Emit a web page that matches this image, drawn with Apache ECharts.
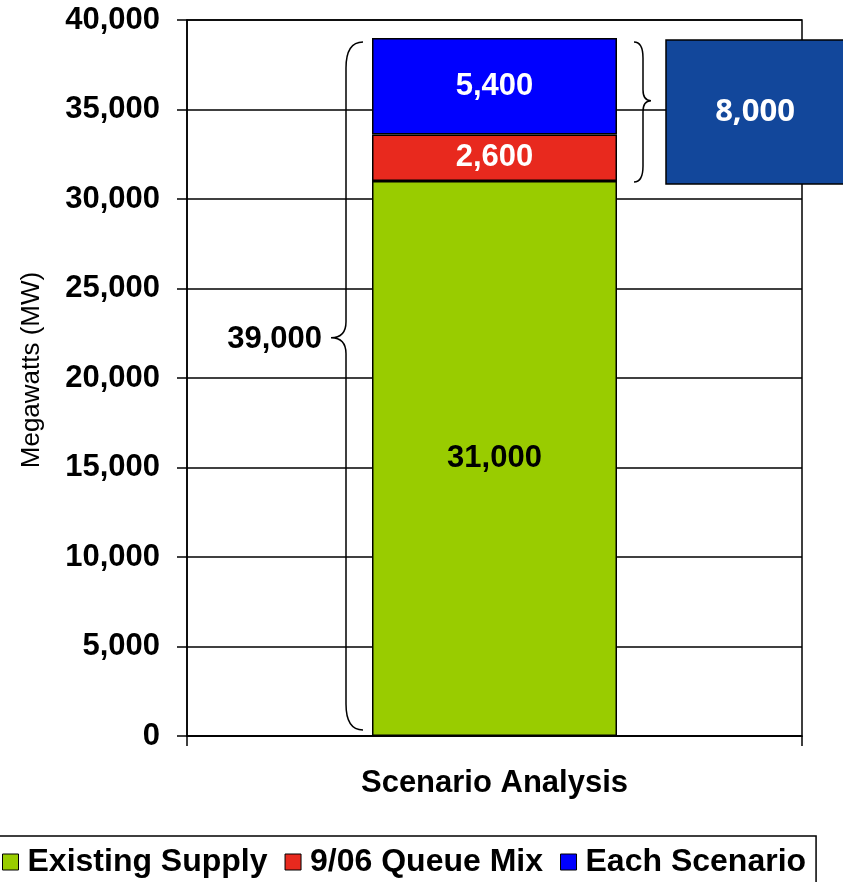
<!DOCTYPE html>
<html>
<head>
<meta charset="utf-8">
<title>Scenario Analysis</title>
<script src="https://cdn.jsdelivr.net/npm/echarts@6/dist/echarts.min.js"></script>
<style>
  html, body { margin: 0; padding: 0; background: #fff; }
  #chart { width: 843px; height: 882px; }
</style>
</head>
<body>
<div id="chart"></div>
<script>
// Capacity stack (MW)
const categories = ['Scenario Analysis'];
const existingSupply = [31000];
const queueMix = [2600];
const eachScenario = [5400];
const seriesNames = ['Existing Supply', '9/06 Queue Mix', 'Each Scenario'];
const yMin = 0, yMax = 40000, yStep = 5000;

const FONT = '"Liberation Sans", Arial, sans-serif';
const BAR_WIDTH = 245;
const fmt = v => Number(v).toLocaleString('en-US');

// totals for the brace annotations
const totals = categories.map((_, i) => existingSupply[i] + queueMix[i] + eachScenario[i]);
const additions = categories.map((_, i) => queueMix[i] + eachScenario[i]);

function leftBrace(xe, xv, xt, yT, yB, frac, rEnd, rTip) {
  const ym = yT + (yB - yT) * frac;
  return `M${xe},${yT} Q${xv},${yT} ${xv},${yT + rEnd} L${xv},${ym - rTip} ` +
         `Q${xv},${ym} ${xt},${ym} Q${xv},${ym} ${xv},${ym + rTip} ` +
         `L${xv},${yB - rEnd} Q${xv},${yB} ${xe},${yB}`;
}

const chart = echarts.init(document.getElementById('chart'));

const segLabel = (color) => ({
  show: true,
  position: 'inside',
  color: color,
  fontFamily: FONT,
  fontWeight: 'bold',
  fontSize: 31,
  formatter: p => fmt(p.value)
});

chart.setOption({
  animation: false,
  backgroundColor: '#fff',
  grid: {
    left: 187, right: 41, top: 20, bottom: 146,
    show: true, borderColor: '#000', borderWidth: 1.5
  },
  legend: {
    data: seriesNames,
    left: -8,
    top: 836,
    orient: 'horizontal',
    padding: [10, 10, 20, 10],
    borderColor: '#000',
    borderWidth: 1.5,
    itemWidth: 16,
    itemHeight: 16,
    itemGap: 17,
    icon: 'rect',
    itemStyle: { borderColor: '#000', borderWidth: 1 },
    textStyle: {
      fontFamily: FONT, fontWeight: 'bold', fontSize: 32, color: '#000',
      padding: [0, 0, 0, 4]
    }
  },
  xAxis: {
    type: 'category',
    data: categories,
    axisLine: { lineStyle: { color: '#000', width: 1.5 } },
    axisTick: { show: true, length: 10, lineStyle: { color: '#000', width: 1.5 } },
    axisLabel: {
      margin: 32, color: '#000', fontFamily: FONT, fontWeight: 'bold', fontSize: 31
    }
  },
  yAxis: {
    type: 'value',
    min: yMin, max: yMax, interval: yStep,
    name: 'Megawatts (MW)',
    nameLocation: 'middle',
    nameGap: 142,
    nameTextStyle: {
      fontFamily: FONT, fontSize: 26, color: '#000', padding: [0, 0, 0, 16]
    },
    axisLine: { show: true, lineStyle: { color: '#000', width: 1.5 } },
    axisTick: { show: true, length: 10, lineStyle: { color: '#000', width: 1.5 } },
    splitLine: { show: true, lineStyle: { color: '#000', width: 1.5 } },
    axisLabel: {
      margin: 27, color: '#000', fontFamily: FONT, fontWeight: 'bold', fontSize: 31,
      formatter: v => fmt(v)
    }
  },
  series: [
    {
      name: seriesNames[0], type: 'bar', stack: 'mw', barWidth: BAR_WIDTH,
      data: existingSupply,
      itemStyle: { color: '#99CC00', borderColor: '#000', borderWidth: 1.5 },
      label: segLabel('#000')
    },
    {
      name: seriesNames[1], type: 'bar', stack: 'mw', barWidth: BAR_WIDTH,
      data: queueMix,
      itemStyle: { color: '#E8291E', borderColor: '#000', borderWidth: 1.5 },
      label: segLabel('#fff')
    },
    {
      name: seriesNames[2], type: 'bar', stack: 'mw', barWidth: BAR_WIDTH,
      data: eachScenario,
      itemStyle: { color: '#0000FF', borderColor: '#000', borderWidth: 1.5 },
      label: segLabel('#fff')
    },
    {
      // braces with the total and the added-capacity box
      name: 'annotations',
      type: 'custom',
      clip: false,
      z: 10,
      silent: true,
      data: categories.map((_, i) => [i, existingSupply[i], totals[i], additions[i]]),
      renderItem: function (params, api) {
        const idx = api.value(0);
        const base = api.value(1);
        const total = api.value(2);
        const added = api.value(3);
        const cx = api.coord([idx, 0])[0];
        const y0 = api.coord([idx, 0])[1];
        const yTop = api.coord([idx, total])[1];
        const yBase = api.coord([idx, base])[1];
        const barLeft = cx - BAR_WIDTH / 2;
        const barRight = cx + BAR_WIDTH / 2;

        const lT = yTop + 4, lB = y0 - 6, lFrac = 0.43;
        const rT = yTop + 4, rB = yBase + 1, rFrac = 0.42;
        const lTipY = lT + (lB - lT) * lFrac;

        return {
          type: 'group',
          children: [
            {
              type: 'path',
              shape: { pathData: leftBrace(barLeft - 9, barLeft - 26, barLeft - 41, lT, lB, lFrac, 26, 16) },
              style: { fill: null, stroke: '#000', lineWidth: 1.5 }
            },
            {
              type: 'text',
              style: {
                text: fmt(total), x: barLeft - 50, y: lTipY + 2,
                align: 'right', verticalAlign: 'middle',
                fontFamily: FONT, fontWeight: 'bold', fontSize: 31, fill: '#000'
              }
            },
            {
              type: 'path',
              shape: { pathData: leftBrace(barRight + 17, barRight + 26, barRight + 34, rT, rB, rFrac, 16, 11) },
              style: { fill: null, stroke: '#000', lineWidth: 1.5 }
            },
            {
              type: 'rect',
              shape: { x: barRight + 49, y: yTop + 2, width: 180, height: (yBase + 3) - (yTop + 2) },
              style: { fill: '#12479B', stroke: '#000', lineWidth: 1.5 }
            },
            {
              type: 'text',
              style: {
                text: fmt(added), x: barRight + 49 + 89, y: (yTop + yBase + 5) / 2,
                align: 'center', verticalAlign: 'middle',
                fontFamily: '"Open Sans", sans-serif', fontWeight: 'bold', fontSize: 31, fill: '#fff'
              }
            }
          ]
        };
      }
    }
  ]
});
</script>
</body>
</html>
